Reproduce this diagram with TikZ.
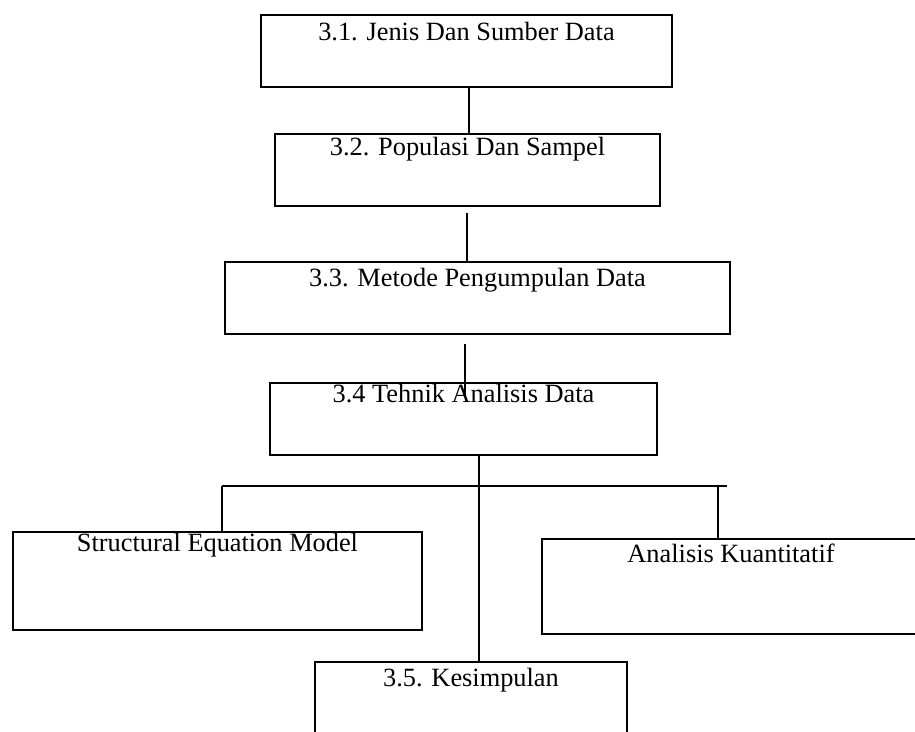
\documentclass[tikz,border=0pt]{standalone}
\usepackage{fontspec}
\setmainfont{Liberation Serif}

\begin{document}
\begin{tikzpicture}[x=0.02cm,y=-0.02cm,line width=1.4pt]
\tikzset{bab/.style={draw,rectangle,inner sep=0pt,line width=1.4pt},
  judul/.style={font=\fontsize{15}{18}\selectfont,inner sep=0pt,anchor=base}}
\useasboundingbox (0,0) rectangle (915,731);
% ---------- boxes of the chapter ----------
\node[bab,minimum width=8.22cm,minimum height=1.44cm] (jenis) at (466.5,51) {};
\node[bab,minimum width=7.70cm,minimum height=1.44cm] (populasi) at (467.5,170) {};
\node[bab,minimum width=10.10cm,minimum height=1.44cm] (metode) at (477.5,298) {};
\node[bab,minimum width=7.74cm,minimum height=1.44cm] (teknik) at (463.5,419) {};
\node[bab,minimum width=8.18cm,minimum height=1.96cm] (sem) at (217.5,581) {};
\node[bab,minimum width=7.56cm,minimum height=1.90cm] (kuant) at (731,586.5) {};
\node[bab,minimum width=6.24cm,minimum height=1.96cm] (simpul) at (471,711) {};
% ---------- titles ----------
\path (jenis.north) ++(0,27) node[judul] (tjenis) {3.1. Jenis Dan Sumber Data};
\path (populasi.north) ++(0,23) node[judul] (tpopulasi) {3.2. Populasi Dan Sampel};
\path (metode.north) ++(0,26) node[judul] (tmetode) {3.3. Metode Pengumpulan Data};
\path (teknik.north) ++(0,21) node[judul] (tteknik) {3.4 Tehnik Analisis Data};
\path (sem.north) ++(0,21) node[judul] (tsem) {Structural Equation Model};
\path (kuant.north) ++(0,25) node[judul] (tkuant) {Analisis Kuantitatif};
\path (simpul.north) ++(0,26) node[judul] (tsimpul) {3.5. Kesimpulan};
% ---------- connectors ----------
\draw (jenis.south -| 469,0) -- (populasi.north -| 469,0);
\draw (populasi.south -| 467,0) ++(0,6) -- (metode.north -| 467,0);
\draw (metode.south -| 465,0) ++(0,9) -- (teknik.north -| 465,0) -- ++(0,15);
\draw (teknik.south -| 479,0) -- (simpul.north -| 479,0);
\coordinate (kiri) at (222,486);
\coordinate (kanan) at (727,486);
\draw (kiri) -- (kanan);
\draw (kiri) -- (kiri |- sem.north);
\draw (kanan) ++(-9,0) coordinate (turun) -- (turun |- kuant.north);
\end{tikzpicture}
\end{document}
